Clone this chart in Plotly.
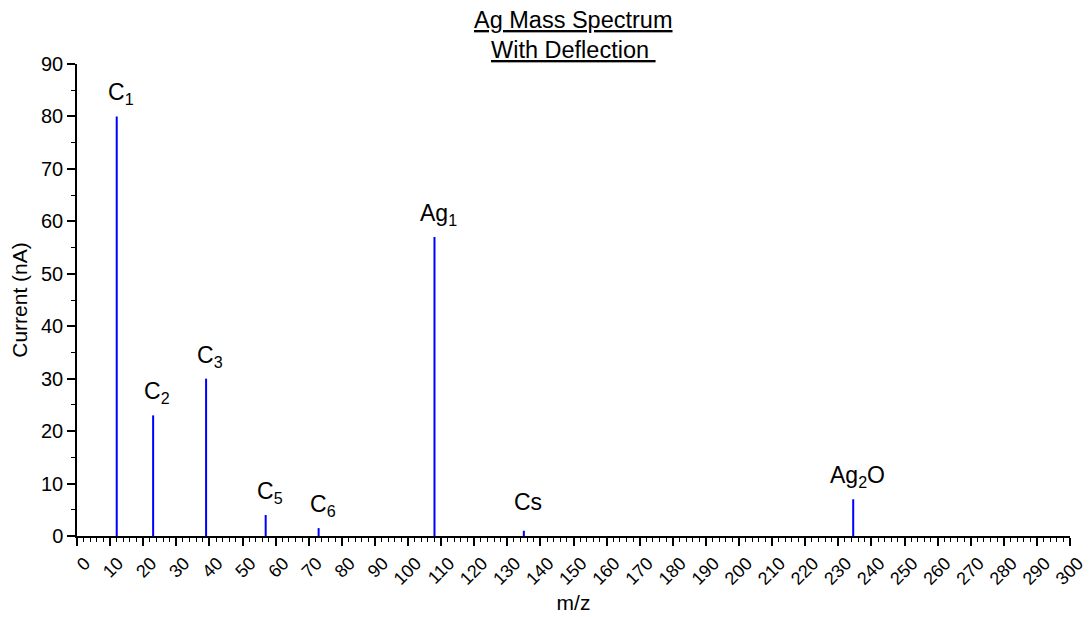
import plotly.graph_objects as go

labels = ["C<sub>1</sub>", "C<sub>2</sub>", "C<sub>3</sub>", "C<sub>5</sub>", "C<sub>6</sub>",
          "Ag<sub>1</sub>", "Cs", "Ag<sub>2</sub>O"]
mz = [12, 23, 39, 57, 73, 108, 135, 234.5]
current = [80, 23, 30, 4, 1.5, 57, 1, 7]
label_extra = [0, 0, 0, 0, 0, 0, 8, 0]
title_lines = ["Ag Mass Spectrum", "With Deflection "]

xticks = list(range(0, 301, 10))
yticks = list(range(0, 91, 10))

xs, ys = [], []
for m, c in zip(mz, current):
    xs += [m, m, None]
    ys += [0, c, None]

fig = go.Figure()
fig.add_trace(go.Scatter(x=xs, y=ys, mode="lines", line=dict(color="#0000ff", width=2),
                         hoverinfo="skip", showlegend=False))

font = "Liberation Sans, Arial, sans-serif"
for lab, m, c, e in zip(labels, mz, current, label_extra):
    fig.add_annotation(x=m, y=c, text=lab, showarrow=False, yanchor="bottom",
                       xanchor="center", yshift=6 + e, xshift=4,
                       font=dict(family=font, size=23, color="black"))

for i, line in enumerate(title_lines):
    fig.add_annotation(xref="paper", yref="paper", x=0.5, y=1, xanchor="center",
                       yanchor="middle", yshift=44 - 30 * i, showarrow=False,
                       text="<u>" + line + "</u>",
                       font=dict(family=font, size=23.5, color="black"))

fig.update_layout(
    width=1090, height=617,
    margin=dict(l=77, r=20, t=64, b=81),
    paper_bgcolor="white", plot_bgcolor="white",
    font=dict(family=font, color="black"),
    showlegend=False,
)
fig.update_xaxes(range=[0, 300], tickmode="array", tickvals=xticks,
                 ticktext=[str(t) for t in xticks], tickangle=-45, automargin=False,
                 ticks="outside", ticklen=8, tickwidth=1.5, tickcolor="black",
                 ticklabelshift=8,
                 minor=dict(dtick=2, ticks="outside", ticklen=4, tickwidth=1.2, tickcolor="black", showgrid=False),
                 showline=True, linecolor="black", linewidth=1.5, showgrid=False, zeroline=False,
                 tickfont=dict(family=font, size=18, color="black"),
                 title=dict(text="m/z", font=dict(family=font, size=21, color="black"), standoff=8))
fig.update_yaxes(range=[0, 90], tickmode="array", tickvals=yticks, automargin=False,
                 ticks="outside", ticklen=8, tickwidth=1.5, tickcolor="black",
                 minor=dict(dtick=5, ticks="outside", ticklen=4, tickwidth=1.2, tickcolor="black", showgrid=False),
                 showline=True, linecolor="black", linewidth=1.5, showgrid=False, zeroline=False,
                 tickfont=dict(family=font, size=20, color="black"),
                 title=dict(text="Current (nA)", font=dict(family=font, size=21, color="black"), standoff=8))

fig.write_html("out.html")
